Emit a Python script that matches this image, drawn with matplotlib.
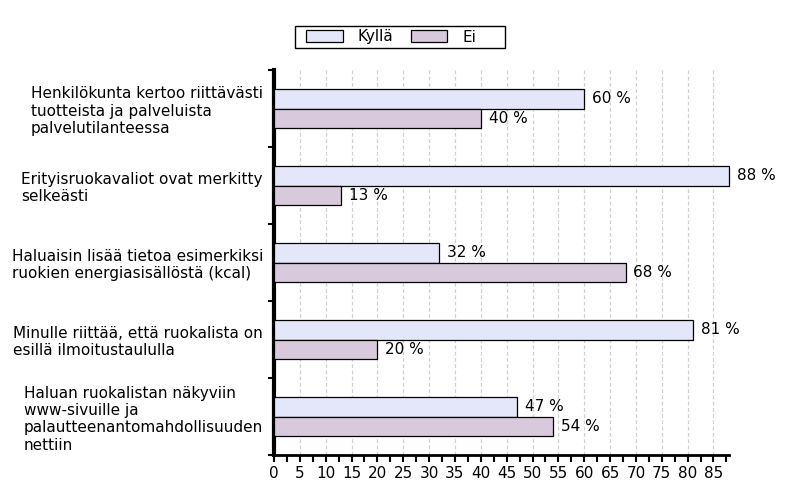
import matplotlib
matplotlib.use("Agg")
import matplotlib.pyplot as plt
import numpy as np
from matplotlib.patches import Patch, Rectangle
from matplotlib.ticker import MultipleLocator

categories = [
    "Henkilökunta kertoo riittävästi\ntuotteista ja palveluista\npalvelutilanteessa",
    "Erityisruokavaliot ovat merkitty\nselkeästi",
    "Haluaisin lisää tietoa esimerkiksi\nruokien energiasisällöstä (kcal)",
    "Minulle riittää, että ruokalista on\nesillä ilmoitustaululla",
    "Haluan ruokalistan näkyviin\nwww-sivuille ja\npalautteenantomahdollisuuden\nnettiin",
]
series_names = ["Kyllä", "Ei"]
kylla = [60, 88, 32, 81, 47]
ei = [40, 13, 68, 20, 54]
xticks = list(range(0, 90, 5))

c_kylla = "#e4e6fa"
c_ei = "#d8cadc"
fs = 11

plt.rcParams['font.family'] = ['DejaVu Sans']
fig = plt.figure(figsize=(8, 5), dpi=100)
ax = fig.add_axes([274/800, 1-455/500, (729-274)/800, (455-70)/500])

y = np.arange(len(categories))
h = 0.247
b1 = ax.barh(y - h/2, kylla, height=h, color=c_kylla, edgecolor="black", linewidth=0.9, zorder=3)
b2 = ax.barh(y + h/2, ei, height=h, color=c_ei, edgecolor="black", linewidth=0.9, zorder=3)
for r in list(b1) + list(b2):
    r.set_clip_on(False)

for bars, vals in ((b1, kylla), (b2, ei)):
    for rect, v in zip(bars, vals):
        ax.text(v + 1.5, rect.get_y() + rect.get_height()/2, f"{v} %",
                va="center", ha="left", fontsize=fs, color="black")

ax.set_xlim(0, 88)
ax.set_ylim(4.5, -0.5)
ax.set_xticks(xticks)
ax.set_xticklabels([str(t) for t in xticks], fontsize=fs)
ax.xaxis.set_minor_locator(MultipleLocator(2.5))
ax.tick_params(axis="x", which="both", direction="out", length=5, width=1.5, pad=3)

ax.set_yticks(y)
ax.set_yticklabels(categories, fontsize=fs, linespacing=1.2)
for lbl in ax.get_yticklabels():
    lbl.set_multialignment("left")
ax.tick_params(axis="y", which="major", length=0, pad=8)
ax.set_yticks(np.arange(-0.5, 5.0, 1.0), minor=True)
ax.tick_params(axis="y", which="minor", length=4, width=1.5)

ax.grid(axis="x", which="major", color="#d0d0d0", linestyle=(0, (3, 2)), linewidth=0.9, zorder=0)
for s in ("top", "right"):
    ax.spines[s].set_visible(False)
ax.spines["left"].set_linewidth(3)
ax.spines["bottom"].set_linewidth(2)

handles = [Patch(facecolor=c_kylla, edgecolor="black", linewidth=0.9),
           Patch(facecolor=c_ei, edgecolor="black", linewidth=0.9)]
leg = fig.legend(handles, series_names, loc="center left", bbox_to_anchor=(306/800, 1-37/500),
                 ncol=2, fontsize=fs, frameon=False,
                 handlelength=2.4, handleheight=0.8, handletextpad=1.0,
                 columnspacing=1.1, borderpad=0.0, borderaxespad=0)
fig.patches.append(Rectangle((295/800, 1-48/500), 210/800, 22/500, transform=fig.transFigure,
                             facecolor="none", edgecolor="black", linewidth=1.0, zorder=5))

fig.savefig("out.png", dpi=100)
